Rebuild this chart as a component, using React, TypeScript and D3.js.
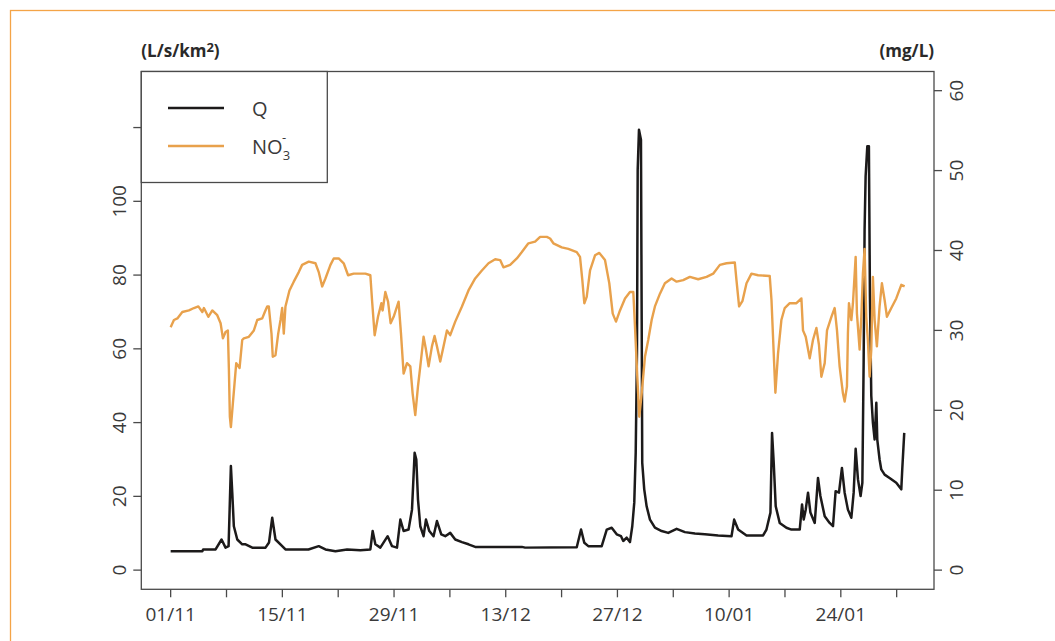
import React from "react";
import * as d3 from "d3";

// discharge Q (L/s/km2), days since 01/11
const qDays = [
  0, 3.97, 4.07, 5.63, 6.38, 6.88, 7.26, 7.55, 7.72, 7.92, 8.35, 8.97, 9.39, 10.23, 11.89, 12.33,
  12.73, 13.14, 13.98, 14.39, 17.27, 18.56, 19.4, 20.65, 22.12, 23.78, 25.03, 25.32, 25.66, 26.28,
  27.2, 27.75, 28.37, 28.79, 29.2, 29.82, 30.25, 30.58, 30.79, 31.0, 31.29, 31.7, 32.0, 32.42,
  32.95, 33.38, 33.92, 34.42, 35.04, 35.67, 36.51, 37.33, 38.17, 44.02, 44.43, 50.9, 51.44, 51.85,
  52.35, 54.03, 54.66, 55.28, 55.91, 56.45, 56.73, 57.16, 57.57, 57.86, 58.11, 58.29, 58.45, 58.54,
  58.7, 58.95, 59.04, 59.11, 59.36, 59.66, 60.08, 60.7, 61.54, 62.37, 63.42, 64.46, 65.71, 66.96,
  68.62, 70.3, 70.63, 71.13, 72.18, 74.26, 74.68, 75.18, 75.38, 75.59, 75.84, 76.34, 77.18, 77.81,
  78.85, 79.14, 79.35, 79.6, 79.89, 80.19, 80.73, 81.14, 81.44, 81.98, 82.6, 83.02, 83.35, 83.77,
  84.14, 84.48, 84.89, 85.32, 85.61, 85.86, 86.15, 86.48, 86.7, 86.86, 86.98, 87.11, 87.32, 87.52,
  87.65, 87.82, 88.02, 88.24, 88.45, 88.57, 88.86, 89.07, 89.49, 90.11, 90.95, 91.58, 91.7, 91.95,
];
const qValues = [
  5.1, 5.1, 5.6, 5.6, 8.3, 6.1, 6.5, 28.2, 21, 11.9, 8.3, 7.0, 7.0, 6.1, 6.1, 7.5,
  14.2, 8.3, 6.5, 5.6, 5.6, 6.5, 5.6, 5.1, 5.6, 5.4, 5.6, 10.6, 7.0, 6.1,
  9.2, 6.5, 6.1, 13.7, 10.6, 11.0, 16.4, 31.8, 30.0, 19.2, 11.9, 9.2, 13.7, 10.6,
  9.2, 13.3, 9.7, 9.2, 10.1, 8.3, 7.6, 7.0, 6.3, 6.3, 6.1, 6.2, 11.0, 7.4,
  6.5, 6.5, 11.0, 11.5, 9.7, 9.2, 7.9, 8.8, 7.6, 11.9, 18.3, 31.8, 58.9, 108.6,
  119.4, 116.7, 68, 29.1, 21.9, 17.3, 13.7, 11.5, 10.6, 10.1, 11.2, 10.3, 9.9, 9.7,
  9.4, 9.2, 13.7, 11.0, 9.4, 9.4, 11.0, 15.6, 37.2, 29.1, 17.3, 12.8, 11.5, 11.0,
  11.0, 17.8, 13.7, 16.4, 21.0, 15.6, 12.8, 25.0, 20.1, 14.6, 12.8, 11.9, 21.4, 21.0,
  27.7, 21.0, 16.4, 14.2, 21.0, 32.9, 24.6, 20.1, 23.7, 56.2, 92.3, 106.8, 114.9, 114.9,
  74.3, 47.2, 40.0, 35.4, 45.4, 35.4, 30.0, 27.3, 25.9, 25.0, 23.7, 21.9, 27.3, 37.2,
];

// nitrate NO3- (mg/L), days since 01/11
const no3Days = [
  0, 0.41, 0.84, 1.46, 2.29, 2.92, 3.47, 3.97, 4.17, 4.72, 5.22, 5.84, 6.26, 6.55, 6.88, 7.17,
  7.3, 7.42, 7.55, 7.8, 8.01, 8.22, 8.64, 8.97, 9.17, 9.8, 10.43, 10.85, 11.48, 11.8, 12.1, 12.3,
  12.64, 12.8, 13.14, 13.48, 13.77, 13.98, 14.18, 14.39, 14.89, 15.43, 16.06, 16.48, 17.31, 18.15,
  18.56, 18.99, 19.4, 20.03, 20.44, 21.06, 21.69, 22.24, 22.94, 24.41, 25.03, 25.24, 25.57, 25.99,
  26.41, 26.57, 26.91, 27.25, 27.57, 27.95, 28.57, 28.87, 29.2, 29.62, 30.04, 30.33, 30.66, 31.0,
  31.29, 31.7, 32.0, 32.33, 32.75, 33.08, 33.38, 33.79, 34.2, 34.63, 35.04, 35.67, 36.51, 37.33,
  38.17, 39.01, 39.84, 40.68, 41.3, 41.71, 42.55, 43.39, 44.02, 44.84, 45.68, 46.31, 47.15, 47.56,
  47.97, 49.02, 49.85, 50.9, 51.31, 51.6, 51.85, 52.15, 52.57, 53.19, 53.73, 54.44, 54.98, 55.41,
  55.82, 56.32, 56.95, 57.57, 57.99, 58.2, 58.49, 58.74, 59.04, 59.45, 59.86, 60.29, 60.7, 61.33,
  61.95, 62.79, 63.42, 64.24, 65.08, 66.12, 67.17, 68.0, 68.84, 69.67, 70.71, 70.92, 71.25, 71.68,
  72.18, 72.8, 73.63, 75.09, 75.31, 75.59, 75.8, 76.13, 76.55, 76.97, 77.6, 78.44, 79.06, 79.26,
  79.6, 80.1, 80.51, 80.94, 81.26, 81.56, 81.98, 82.27, 82.82, 83.23, 83.52, 83.85, 84.27, 84.48,
  84.77, 84.89, 85.02, 85.32, 85.52, 85.86, 86.02, 86.36, 86.57, 86.77, 86.98, 87.19, 87.39, 87.61,
  87.82, 88.02, 88.24, 88.52, 88.86, 89.15, 89.49, 89.78, 90.33, 90.95, 91.58, 92.0,
];
const no3Values = [
  30.4, 31.3, 31.5, 32.3, 32.5, 32.8, 33.0, 32.3, 32.8, 31.7, 32.5, 31.9, 30.9, 29.0, 29.8, 30.0,
  25.1, 19.2, 17.9, 20.9, 23.4, 25.9, 25.3, 28.8, 29.0, 29.2, 30.0, 31.3, 31.5, 32.3, 33.0, 33.0,
  29.6, 26.7, 26.9, 29.6, 31.3, 32.8, 29.6, 33.0, 35.0, 36.1, 37.3, 38.2, 38.6, 38.4,
  37.3, 35.5, 36.5, 38.2, 39.0, 39.0, 38.4, 36.9, 37.1, 37.1, 36.9, 33.8, 29.4, 31.7,
  33.4, 32.5, 34.8, 33.6, 30.9, 31.7, 33.6, 29.6, 24.6, 25.9, 25.5, 22.1, 19.4, 23.0,
  25.5, 29.2, 27.6, 25.5, 28.0, 29.3, 28.0, 26.1, 28.0, 30.0, 29.4, 31.1, 33.0, 35.0,
  36.5, 37.5, 38.4, 38.9, 38.8, 37.9, 38.2, 39.0, 39.8, 40.9, 41.1, 41.7, 41.7, 41.5,
  40.9, 40.4, 40.2, 39.8, 39.2, 36.3, 33.4, 34.2, 37.5, 39.4, 39.7, 38.8, 35.9, 32.1,
  31.1, 32.5, 34.0, 34.8, 34.8, 30.5, 24.2, 19.2, 22.1, 26.7, 28.8, 31.3, 33.0, 34.6,
  35.9, 36.5, 36.1, 36.3, 36.7, 36.4, 36.7, 37.1, 38.2, 38.4, 38.5, 36.3, 33.0, 33.7,
  35.9, 37.1, 36.9, 36.8, 33.8, 27.1, 22.2, 27.1, 31.3, 32.8, 33.4, 33.4, 34.0, 30.0,
  29.2, 26.5, 28.8, 30.3, 28.2, 24.2, 25.9, 30.0, 31.7, 32.8, 30.0, 25.5, 22.1, 21.1,
  23.0, 29.6, 33.4, 31.3, 33.4, 39.2, 32.1, 27.6, 31.7, 37.1, 40.2, 31.7, 28.8, 24.2,
  27.6, 36.7, 31.3, 28.0, 33.0, 35.9, 33.8, 31.7, 32.8, 34.0, 35.7, 35.5,
];

const xTickDays = d3.range(0, 92, 7);
const xTickLabels = ["01/11", "", "15/11", "", "29/11", "", "13/12", "", "27/12", "", "10/01", "", "24/01", ""];
const qTicks = [0, 20, 40, 60, 80, 100, 120];
const qTickLabels = ["0", "20", "40", "60", "80", "100", ""];
const no3Ticks = [0, 10, 20, 30, 40, 50, 60];

const W = 1055;
const H = 641;
const plot = { left: 141.3, right: 934, top: 71.5, bottom: 589.3 };

// R style 4% padding
const pad = (lo: number, hi: number): [number, number] => {
  const d = (hi - lo) * 0.04;
  return [lo - d, hi + d];
};

const App = () => {
  const x = d3.scaleLinear().domain(pad(0, 92)).range([plot.left, plot.right]);
  const yQ = d3.scaleLinear().domain(pad(0, 130)).range([plot.bottom, plot.top]);
  const yN = d3.scaleLinear().domain(pad(0, 60)).range([plot.bottom, plot.top]);

  const qLine = d3
    .line<number>()
    .x((d, i) => x(qDays[i]))
    .y((d) => yQ(d));
  const nLine = d3
    .line<number>()
    .x((d, i) => x(no3Days[i]))
    .y((d) => yN(d));

  const axisColor = "#4a4a4a";
  const textColor = "#3a3a3a";
  const font = "'Open Sans', 'DejaVu Sans', sans-serif";
  const orange = "#e8a14c";

  return (
    <div style={{ position: "absolute", left: 0, top: 0 }}>
      <svg width={W} height={H} style={{ display: "block", background: "#fff" }}>
        <rect x={10.5} y={10.5} width={1100} height={700} fill="none" stroke="#f4a447" strokeWidth={1.3} />

        <path d={qLine(qValues) || ""} fill="none" stroke="#1c1a1a" strokeWidth={2.5} strokeLinejoin="round" />
        <path d={nLine(no3Values) || ""} fill="none" stroke={orange} strokeWidth={2.4} strokeLinejoin="round" />

        {/* box */}
        <rect
          x={plot.left}
          y={plot.top}
          width={plot.right - plot.left}
          height={plot.bottom - plot.top}
          fill="none"
          stroke={axisColor}
          strokeWidth={1.3}
        />

        {/* bottom axis */}
        {xTickDays.map((d, i) => (
          <g key={"x" + d} transform={`translate(${x(d)},${plot.bottom})`}>
            <line y1={0} y2={8} stroke={axisColor} strokeWidth={1.3} />
            <text y={32} textAnchor="middle" fontFamily={font} fontSize={19} fill={textColor}>
              {xTickLabels[i]}
            </text>
          </g>
        ))}

        {/* left axis */}
        {qTicks.map((v, i) => (
          <g key={"q" + v} transform={`translate(${plot.left},${yQ(v)})`}>
            <line x1={-8} x2={0} stroke={axisColor} strokeWidth={1.3} />
            <text
              transform="translate(-15,0) rotate(-90)"
              textAnchor="middle"
              fontFamily={font}
              fontSize={19}
              fill={textColor}
            >
              {qTickLabels[i]}
            </text>
          </g>
        ))}

        {/* right axis */}
        {no3Ticks.map((v) => (
          <g key={"n" + v} transform={`translate(${plot.right},${yN(v)})`}>
            <line x1={0} x2={8} stroke={axisColor} strokeWidth={1.3} />
            <text
              transform="translate(29,0) rotate(-90)"
              textAnchor="middle"
              fontFamily={font}
              fontSize={19}
              fill={textColor}
            >
              {v}
            </text>
          </g>
        ))}

        {/* axis units */}
        <text x={plot.left} y={57} fontFamily={font} fontWeight={700} fontSize={17} fill="#2a2a2a">
          (L/s/km
          <tspan dy={-5} fontSize={13}>2</tspan>
          <tspan dy={5}>)</tspan>
        </text>
        <text x={plot.right} y={57} textAnchor="end" fontFamily={font} fontWeight={700} fontSize={17} fill="#2a2a2a">
          (mg/L)
        </text>

        {/* legend */}
        <rect x={plot.left} y={plot.top} width={186} height={111} fill="#fff" stroke={axisColor} strokeWidth={1.3} />
        <line x1={168} x2={224} y1={108} y2={108} stroke="#1c1a1a" strokeWidth={2.5} />
        <line x1={168} x2={224} y1={146} y2={146} stroke={orange} strokeWidth={2.4} />
        <text x={252} y={116} fontFamily={font} fontSize={20} fill={textColor}>
          Q
        </text>
        <text x={252} y={154} fontFamily={font} fontSize={20} fill={textColor}>
          NO
          <tspan dy={6} fontSize={13}>3</tspan>
          <tspan dx={-8} dy={-18} fontSize={13}>-</tspan>
        </text>
      </svg>
    </div>
  );
};

export default App;
